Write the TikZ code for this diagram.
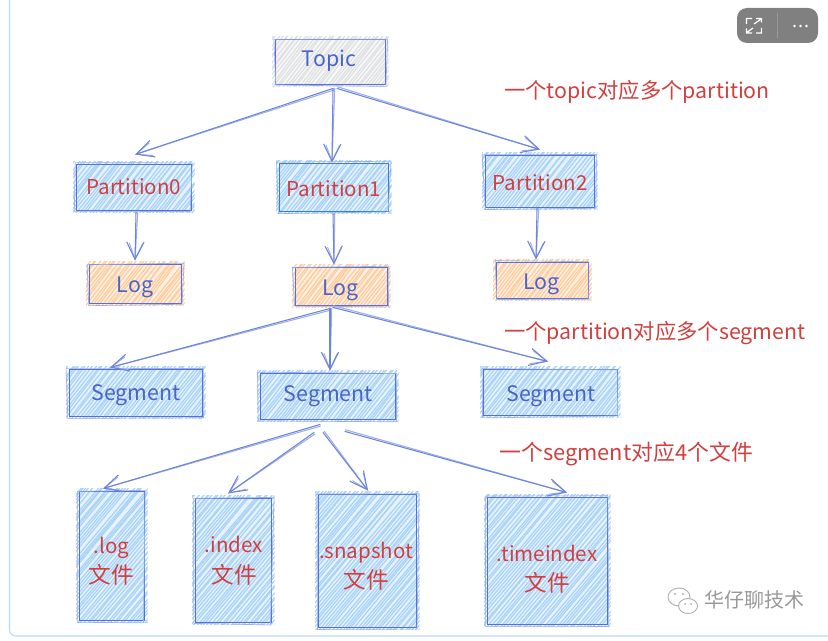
\documentclass[tikz,border=0pt]{standalone}
\usepackage{fontspec}
\setmainfont{Noto Sans CJK SC}
\usetikzlibrary{arrows.meta,calc,backgrounds}

\definecolor{inkblue}{HTML}{5570D6}
\definecolor{inkpale}{HTML}{9DAEEC}
\definecolor{inkteal}{HTML}{3A80BC}
\definecolor{labelblue}{HTML}{4A64C8}
\definecolor{labelred}{HTML}{D23F3F}
\definecolor{hatchblue}{HTML}{AAD4F8}
\definecolor{groundblue}{HTML}{E6F2FD}
\definecolor{hatchorange}{HTML}{FFCDA0}
\definecolor{groundorange}{HTML}{FFF0E2}
\definecolor{hatchgrey}{HTML}{E0E1E4}
\definecolor{groundgrey}{HTML}{F7F7F8}
\definecolor{framecolor}{HTML}{BBD8FB}

\tikzset{
  sketchbox/.style={draw=inkblue,line width=0.7pt,inner sep=0pt,text=labelblue,
    font=\fontsize{16}{19}\selectfont},
  redtext/.style={text=labelred},
  tighter/.style={font=\fontsize{15.4}{19}\selectfont},
  note/.style={anchor=west,inner sep=0pt,text=labelred,font=\fontsize{16}{19}\selectfont},
  linkmain/.style={draw=inkblue!85,line width=0.8pt,line cap=round,
    -{Straight Barb[length=13pt,width=13pt,line width=0.8pt]}},
  linkpale/.style={draw=inkpale,line width=0.8pt,line cap=round,
    -{Straight Barb[length=12pt,width=10pt,line width=0.7pt]}},
  roughline/.style={draw=inkpale,line width=0.5pt,line cap=round,line join=round},
}

% a box given by its pixel corners: name, x0, y0, x1, y1, extra style, text
\newcommand\sketchnode[7]{%
  \node[sketchbox,#6,minimum width={(#4-#2)*0.75pt},minimum height={(#5-#3)*0.75pt}]
    (#1) at ({(#2+#4)/2},{(#3+#5)/2}) {#7};}

% text placed by a sideways shift and a baseline drop from the middle of its box
\newcommand\placed[3]{\smash{\raisebox{-#2}{\kern #1 #3}}}

% two centred lines for a file box
\newcommand\fileword[2]{%
  \begin{tabular}{@{}c@{}}#1\\[2.5pt]{\fontsize{17}{20}\selectfont #2}\end{tabular}}

% hand-drawn diagonal shading behind a box: name, ground colour, stroke colour
\newcommand\hatchbox[3]{%
  \begin{scope}[on background layer]
    \path (#1.north west); \pgfgetlastxy{\hxa}{\hya}
    \path (#1.south east); \pgfgetlastxy{\hxb}{\hyb}
    \fill[#2] (\hxa,\hya) rectangle (\hxb,\hyb);
    \begin{scope}
      \clip (\hxa-1.8pt,\hya+1.5pt) rectangle (\hxb+2.4pt,\hyb-1.8pt);
      \pgfmathsetmacro\hrun{(\hya-\hyb)/1.15}
      \pgfmathtruncatemacro\hn{(\hxb-\hxa+\hrun+8)/2.5}
      \foreach \k in {0,...,\hn}{
        \pgfmathsetmacro\hs{\hxa-\hrun-4+\k*2.5+rand*0.7}
        \pgfmathsetmacro\hj{rand*1.4}
        \draw[#3,line width=0.95pt] (\hs pt,\hyb-2pt) -- (\hs pt+\hrun pt+\hj pt,\hya+2pt);
      }
    \end{scope}
  \end{scope}}

% second pen stroke round a box
\newcommand\roughen[1]{%
  \draw[roughline]
    ($(#1.north west)+(-1.5+rand*1.2,rand*1.4)$) -- ($(#1.north east)+(1.5+rand*1.2,rand*1.4)$)
    -- ($(#1.south east)+(rand*1.4,1.5+rand*1.2)$) -- ($(#1.south west)+(rand*1.4,1.5+rand*1.2)$)
    -- cycle;}

% a connector with its second pen stroke: from anchor, to anchor, offsets in pixels
\newcommand\sketchlink[4]{%
  \coordinate (linkfrom) at ($(#1)+(#3)$);
  \coordinate (linkto) at ($(#2)+(#4)$);
  \draw[linkpale] ($(linkfrom)!1.3pt!90:(linkto)$) -- (linkto);
  \draw[linkmain] (linkfrom) -- (linkto);}

\begin{document}
\begin{tikzpicture}[x=0.75pt,y=-0.75pt]
\useasboundingbox (0,0) rectangle (828,641);
\pgfmathsetseed{4242}
\begin{scope}[on background layer]
  \fill[white] (0,0) rectangle (828,641);
\end{scope}

% page frame
\draw[framecolor,line width=0.8pt,rounded corners=4.5pt] (9.5,-2) -- (9.5,636) -- (830,636);

% viewer toolbar
\fill[fill=black!50,rounded corners=7.5pt] (737,8) rectangle (818,43);
\draw[white!60!black,line width=0.4pt] (777,13) -- (777,38);
\draw[white,line width=0.9pt]
  (746.5,24) -- (746.5,18.5) -- (752,18.5)
  (756,18.5) -- (761.5,18.5) -- (761.5,22.5)
  (761.5,28) -- (761.5,33) -- (756,33)
  (752,33) -- (746.5,33) -- (746.5,28.5)
  (754,24) -- (760.5,19.5)
  (747.5,32) -- (753,28);
\foreach \d in {794.5,800.5,806.5}{\fill[white] (\d,26) circle[radius=1.4];}

% topic level
\sketchnode{topic}{275}{39}{385}{84}{}{\placed{-1.5pt}{3.9pt}{Topic}}
% partitions
\sketchnode{pa}{76}{164}{191}{210}{redtext,tighter}{\placed{0.4pt}{5.8pt}{Partition0}}
\sketchnode{pb}{279}{163}{388}{211}{redtext,tighter,draw=inkteal}{\placed{0.4pt}{7pt}{Partition1}}
\sketchnode{pc}{485}{155}{594}{207}{redtext,tighter}{\placed{0.8pt}{7.3pt}{Partition2}}
% logs
\sketchnode{la}{89}{264}{181}{303}{}{\placed{0pt}{7.1pt}{Log}}
\sketchnode{lb}{295}{267}{387}{305}{}{\placed{-0.3pt}{7.5pt}{Log}}
\sketchnode{lc}{496}{262}{588}{298}{}{\placed{-0.8pt}{7.5pt}{Log}}
% segments
\sketchnode{sa}{69}{369}{202}{416}{}{\placed{0.9pt}{6.1pt}{Segment}}
\sketchnode{sb}{260}{373}{395}{419}{}{\placed{1.1pt}{3.8pt}{Segment}}
\sketchnode{sc}{483}{369}{617}{415}{}{\placed{1.5pt}{7pt}{Segment}}
% files
\sketchnode{fa}{79}{491}{144}{620}{redtext,tighter}{\placed{0pt}{9.4pt}{\fileword{.log}{文件}}}
\sketchnode{fb}{195}{498}{271}{622}{redtext,tighter}{\placed{1.5pt}{5.8pt}{\fileword{.index}{文件}}}
\sketchnode{fc}{318}{494}{416}{627}{redtext,tighter}{\placed{-1.5pt}{9.7pt}{\fileword{.snapshot}{文件}}}
\sketchnode{fd}{487}{497}{607}{624}{redtext,tighter}{\placed{0pt}{11.5pt}{\fileword{.timeindex}{文件}}}

\hatchbox{topic}{groundgrey}{hatchgrey}
\foreach \n in {pa,pb,pc,sa,sb,sc,fa,fb,fc,fd}{\hatchbox{\n}{groundblue}{hatchblue}}
\foreach \n in {la,lb,lc}{\hatchbox{\n}{groundorange}{hatchorange}}
\foreach \n in {topic,pa,pb,pc,la,lb,lc,sa,sb,sc,fa,fb,fc,fd}{\roughen{\n}}

% connectors
\sketchlink{topic.south}{pa.north}{3,4}{1.5,-9}
\sketchlink{topic.south}{pb.north}{3,4}{-1.5,0}
\sketchlink{topic.south}{pc.north}{7,4}{0.5,-5}
\sketchlink{pa.south}{la.north}{2.5,2}{0,-3}
\sketchlink{pb.south}{lb.north}{-0.5,2}{-7,-2}
\sketchlink{pc.south}{lc.north}{-2.5,1}{-6,-2}
\sketchlink{lb.south}{sa.north}{-11,3}{-25.5,-1}
\sketchlink{lb.south}{sb.north}{-11,3}{2.5,-2}
\sketchlink{lb.south}{sc.north}{-8,2}{-2,-7}
\sketchlink{sb.south}{fa.north}{-7.5,5}{-8.5,-2}
\sketchlink{sb.south}{fb.north}{-13.5,13}{-5,-4}
\sketchlink{sb.south}{fc.north}{-4.5,13}{1,-3}
\sketchlink{sb.south}{fd.north}{17.5,12}{20,-4}

% notes beside the levels
\node[note] (notea) at (504,92) {一个topic对应多个partition};
\node[note] (noteb) at (504,333) {一个partition对应多个segment};
\node[note,font=\fontsize{16.4}{19}\selectfont] (notec) at (499,454) {一个segment对应4个文件};

% account mark
\begin{scope}[draw=black!30,line width=0.7pt]
  \draw (679,597) ellipse[x radius=11,y radius=9];
  \fill[white] (688,606) ellipse[x radius=10,y radius=8];
  \draw (688,606) ellipse[x radius=9.5,y radius=7.5];
  \fill[black!30] (675,594) circle[radius=1.1] (683,594) circle[radius=1.1]
    (685,604) circle[radius=1] (691,604) circle[radius=1];
\end{scope}
\node[anchor=west,inner sep=0pt,text=black!40,font=\fontsize{15}{18}\selectfont] (mark) at (704,600) {华仔聊技术};
\end{tikzpicture}
\end{document}
